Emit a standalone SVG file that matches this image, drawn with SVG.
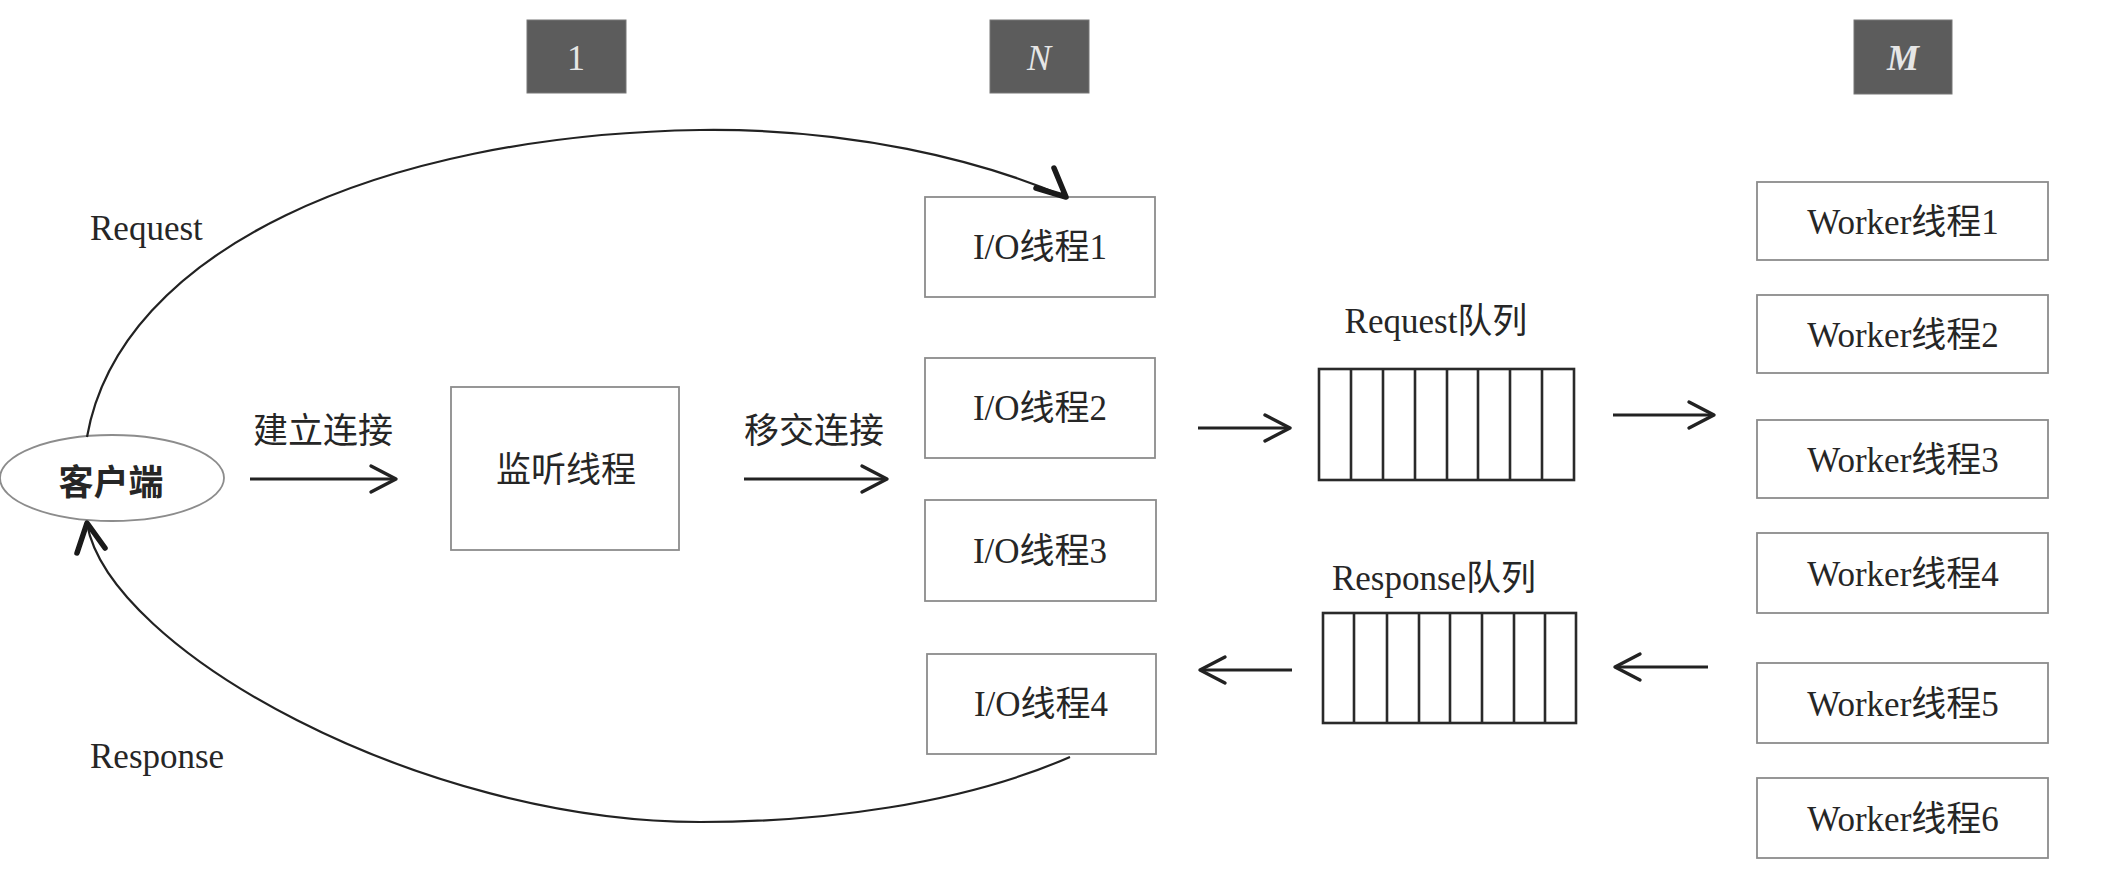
<svg xmlns="http://www.w3.org/2000/svg" width="2128" height="884" viewBox="0 0 2128 884">
<defs>
<style>
.bg{fill:#ffffff}
.box{fill:#ffffff;stroke:#8c8c8c;stroke-width:1.8}
.dark{fill:#5c5c5c;stroke:#777;stroke-width:1}
.dt{font-family:"Liberation Serif",serif;font-size:36px;fill:#e6e6e6;text-anchor:middle}
.t{font-family:"Liberation Serif","Noto Sans CJK SC",serif;font-size:35px;fill:#262626;text-anchor:middle}
.tl{font-family:"Liberation Serif","Noto Sans CJK SC",serif;font-size:35px;fill:#262626}
.q{fill:#ffffff;stroke:#2a2a2a;stroke-width:2.6}
.ql{stroke:#2a2a2a;stroke-width:2.6}
.ln{fill:none;stroke:#222;stroke-width:3.2}
.cv{fill:none;stroke:#222;stroke-width:2.2}
.ah{fill:none;stroke:#1a1a1a;stroke-width:5.5;stroke-linecap:round;stroke-linejoin:round}
</style>
<marker id="chev" viewBox="0 0 32 32" refX="29" refY="16" markerWidth="32" markerHeight="32" orient="auto" markerUnits="userSpaceOnUse">
<path d="M4,3 L29,16 L4,29" fill="none" stroke="#222" stroke-width="3.4" stroke-linecap="round" stroke-linejoin="round"/>
</marker>
</defs>
<rect class="bg" x="0" y="0" width="2128" height="884"/>

<g id="tag-1"><rect class="dark" x="527" y="20" width="99" height="73"/><text class="dt" x="576" y="70">1</text></g>
<g id="tag-N"><rect class="dark" x="990" y="20" width="99" height="73"/><text class="dt" x="1039" y="70" font-style="italic">N</text></g>
<g id="tag-M"><rect class="dark" x="1854" y="20" width="98" height="74"/><text class="dt" x="1903" y="70" font-style="italic" font-weight="bold">M</text></g>

<g id="client"><ellipse cx="112" cy="478" rx="112" ry="43" fill="#fff" stroke="#8c8c8c" stroke-width="1.8"/><text class="t" x="111" y="495" font-weight="bold" font-family="'Noto Sans CJK SC',sans-serif">客户端</text></g>

<g id="listener"><rect class="box" x="451" y="387" width="228" height="163"/><text class="t" x="566" y="482">监听线程</text></g>

<g id="io1"><rect class="box" x="925" y="197" width="230" height="100"/><text class="t" x="1040" y="259">I/O线程1</text></g>
<g id="io2"><rect class="box" x="925" y="358" width="230" height="100"/><text class="t" x="1040" y="420">I/O线程2</text></g>
<g id="io3"><rect class="box" x="925" y="500" width="231" height="101"/><text class="t" x="1040" y="563">I/O线程3</text></g>
<g id="io4"><rect class="box" x="927" y="654" width="229" height="100"/><text class="t" x="1041" y="716">I/O线程4</text></g>

<g id="request-queue">
<text class="t" x="1436" y="333">Request队列</text>
<rect class="q" x="1319" y="369" width="255" height="111"/>
<path class="ql" d="M1351,369V480M1383,369V480M1415,369V480M1447,369V480M1478,369V480M1510,369V480M1542,369V480"/>
</g>
<g id="response-queue">
<text class="t" x="1434" y="590">Response队列</text>
<rect class="q" x="1323" y="613" width="253" height="110"/>
<path class="ql" d="M1354,613V723M1387,613V723M1419,613V723M1450,613V723M1482,613V723M1514,613V723M1545,613V723"/>
</g>

<g id="worker1"><rect class="box" x="1757" y="182" width="291" height="78"/><text class="t" x="1903" y="234">Worker线程1</text></g>
<g id="worker2"><rect class="box" x="1757" y="295" width="291" height="78"/><text class="t" x="1903" y="347">Worker线程2</text></g>
<g id="worker3"><rect class="box" x="1757" y="420" width="291" height="78"/><text class="t" x="1903" y="472">Worker线程3</text></g>
<g id="worker4"><rect class="box" x="1757" y="533" width="291" height="80"/><text class="t" x="1903" y="586">Worker线程4</text></g>
<g id="worker5"><rect class="box" x="1757" y="663" width="291" height="80"/><text class="t" x="1903" y="716">Worker线程5</text></g>
<g id="worker6"><rect class="box" x="1757" y="778" width="291" height="80"/><text class="t" x="1903" y="831">Worker线程6</text></g>

<g id="connectors">
<path class="cv" d="M87,437 C120,250 380,135 700,130 C850,128 980,160 1066,197"/>
<path class="ah" d="M1054,168 L1066,197 L1036,188"/>
<path class="cv" d="M1070,757 C960,805 820,822 700,822 C420,822 110,650 87,524"/>
<path class="ah" d="M77,553 L87,523 L105,548"/>
<line class="ln" x1="250" y1="479" x2="396" y2="479" marker-end="url(#chev)"/>
<line class="ln" x1="744" y1="479" x2="887" y2="479" marker-end="url(#chev)"/>
<line class="ln" x1="1198" y1="428" x2="1290" y2="428" marker-end="url(#chev)"/>
<line class="ln" x1="1613" y1="415" x2="1714" y2="415" marker-end="url(#chev)"/>
<line class="ln" x1="1708" y1="667" x2="1615" y2="667" marker-end="url(#chev)"/>
<line class="ln" x1="1292" y1="670" x2="1200" y2="670" marker-end="url(#chev)"/>
<text class="tl" x="90" y="240">Request</text>
<text class="tl" x="90" y="768">Response</text>
<text class="t" x="323" y="443">建立连接</text>
<text class="t" x="814" y="443">移交连接</text>
</g>
</svg>
